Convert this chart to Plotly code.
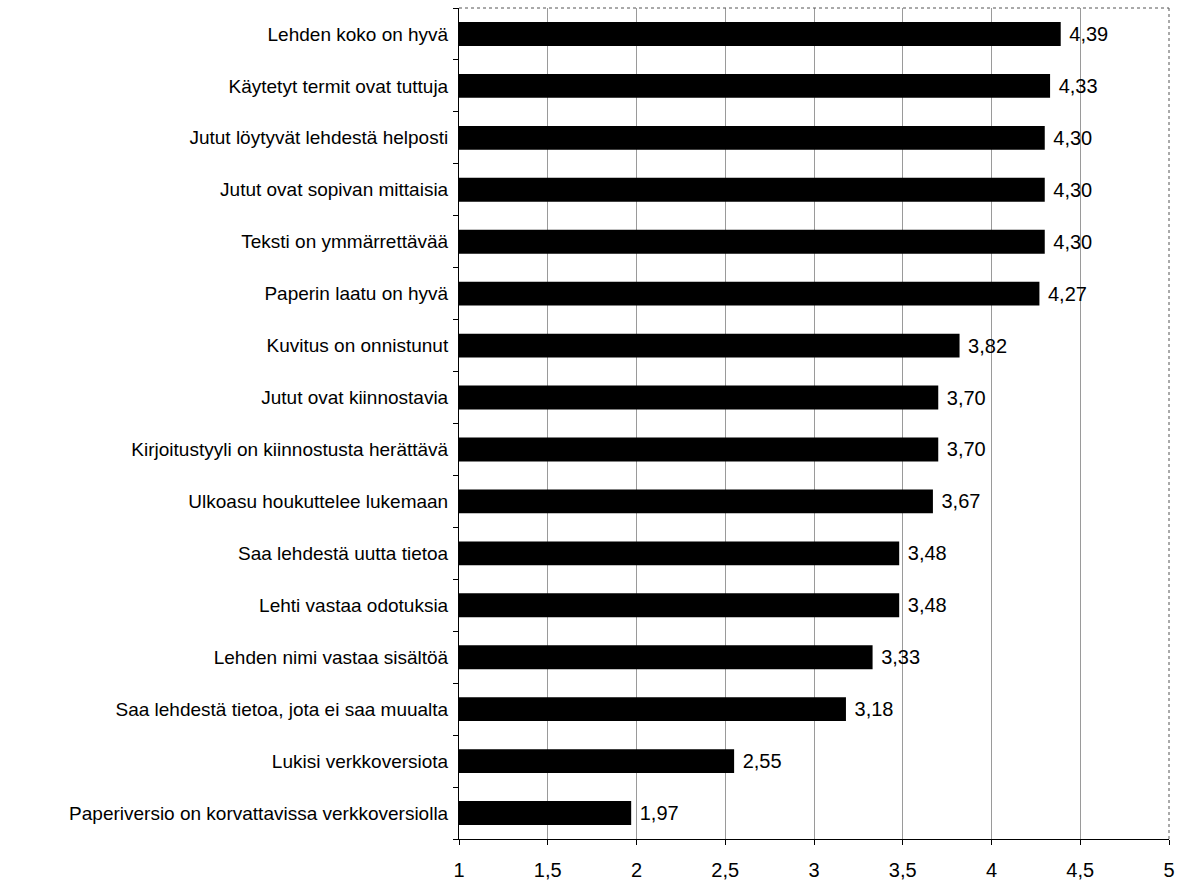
import plotly.graph_objects as go

categories = [
    "Lehden koko on hyvä",
    "Käytetyt termit ovat tuttuja",
    "Jutut löytyvät lehdestä helposti",
    "Jutut ovat sopivan mittaisia",
    "Teksti on ymmärrettävää",
    "Paperin laatu on hyvä",
    "Kuvitus on onnistunut",
    "Jutut ovat kiinnostavia",
    "Kirjoitustyyli on kiinnostusta herättävä",
    "Ulkoasu houkuttelee lukemaan",
    "Saa lehdestä uutta tietoa",
    "Lehti vastaa odotuksia",
    "Lehden nimi vastaa sisältöä",
    "Saa lehdestä tietoa, jota ei saa muualta",
    "Lukisi verkkoversiota",
    "Paperiversio on korvattavissa verkkoversiolla",
]
values = [4.39, 4.33, 4.30, 4.30, 4.30, 4.27, 3.82, 3.70, 3.70, 3.67, 3.48, 3.48, 3.33, 3.18, 2.55, 1.97]
tick_vals = [1, 1.5, 2, 2.5, 3, 3.5, 4, 4.5, 5]
tick_text = ["1", "1,5", "2", "2,5", "3", "3,5", "4", "4,5", "5"]

font = "Liberation Sans, Arial, sans-serif"

fig = go.Figure(go.Bar(
    x=values, y=categories, orientation="h",
    marker=dict(color="black", line=dict(width=0)),
    text=[" " + f"{v:.2f}".replace(".", ",") for v in values],
    textposition="outside", cliponaxis=False,
    textfont=dict(family=font, size=20, color="black"),
))

fig.update_layout(
    width=1183, height=881,
    margin=dict(l=459, r=14, t=8, b=42),
    plot_bgcolor="white", paper_bgcolor="white",
    bargap=0.54, showlegend=False,
    font=dict(family=font, size=19, color="black"),
    separators=", ",
    xaxis=dict(range=[1, 5], tickvals=tick_vals, ticktext=tick_text,
               showgrid=True, gridcolor="#9a9a9a", gridwidth=1,
               showline=True, linecolor="black", linewidth=1,
               ticks="outside", ticklen=5, tickcolor="black",
               ticklabelstandoff=8, automargin=False,
               zeroline=False, tickfont=dict(size=20, family=font)),
    yaxis=dict(categoryorder="array", categoryarray=categories[::-1],
               showline=True, linecolor="black", linewidth=1,
               ticks="outside", ticklen=5, tickcolor="black",
               tickson="boundaries", showgrid=False,
               ticklabelstandoff=6, automargin=False,
               tickfont=dict(size=19, family=font)),
)
fig.add_shape(type="line", xref="paper", yref="paper", x0=0, x1=1, y0=1, y1=1,
              line=dict(color="#555555", width=1, dash="dot"))
fig.add_shape(type="line", xref="paper", yref="paper", x0=1, x1=1, y0=0, y1=1,
              line=dict(color="#555555", width=1, dash="dot"))

fig.write_html("out.html")
